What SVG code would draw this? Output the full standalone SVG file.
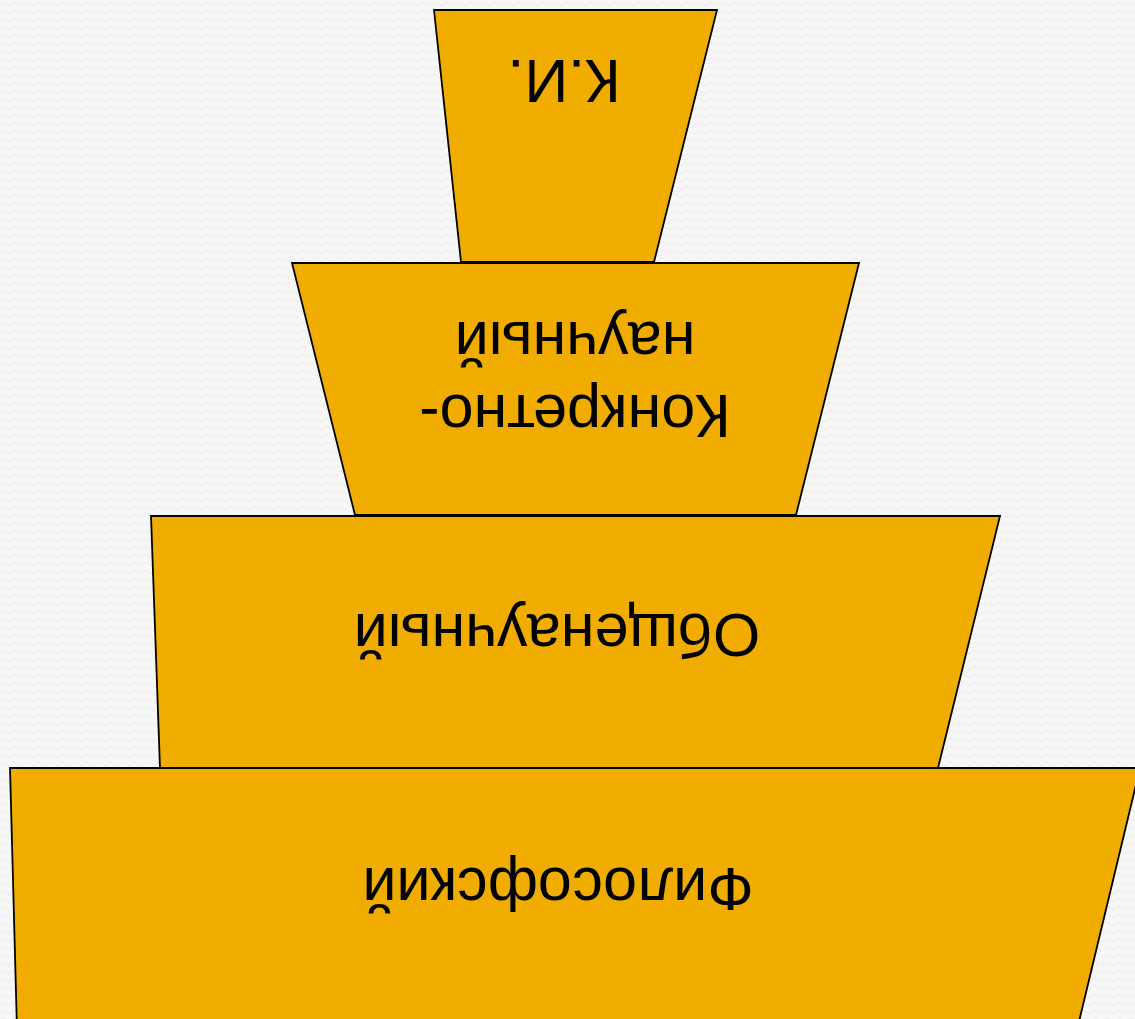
<svg xmlns="http://www.w3.org/2000/svg" width="1135" height="1019" viewBox="0 0 1135 1019">
  <defs>
    <pattern id="bgp" width="12" height="8" patternUnits="userSpaceOnUse">
      <rect width="12" height="8" fill="#f7f7f7"/>
      <path d="M0 4 Q3 1 6 4 T12 4" fill="none" stroke="#efefef" stroke-width="1.2"/>
    </pattern>
  </defs>
  <style>
    .tier { fill: #F0AD00; stroke: #000000; stroke-width: 1.8; stroke-linejoin: miter; }
    .lbl { font-family: "Liberation Sans", Arial, sans-serif; font-size: 61px; fill: #000000; text-anchor: middle; }
  </style>
  <rect width="1135" height="1019" fill="url(#bgp)"/>
  <g id="tier-ki">
    <polygon class="tier" points="434,10 717,10 654,262 461,262"/>
    <text class="lbl" transform="translate(564,60) rotate(180)">К.И.</text>
  </g>
  <g id="tier-konkretno">
    <polygon class="tier" points="292,263 859,263 796,515 355,515"/>
    <text class="lbl" transform="translate(575,395) rotate(180)">Конкретно-</text>
    <text class="lbl" transform="translate(575,322) rotate(180)">научный</text>
  </g>
  <g id="tier-obshchenauchny">
    <polygon class="tier" points="151,516 1000,516 938,768 160,768"/>
    <text class="lbl" transform="translate(557,614) rotate(180)">Общенаучный</text>
  </g>
  <g id="tier-filosofsky">
    <polygon class="tier" points="10,768 1140,768 1077,1030 17,1030"/>
    <text class="lbl" transform="translate(558,868) rotate(180)">Философский</text>
  </g>
  <g id="connectors"/>
</svg>
